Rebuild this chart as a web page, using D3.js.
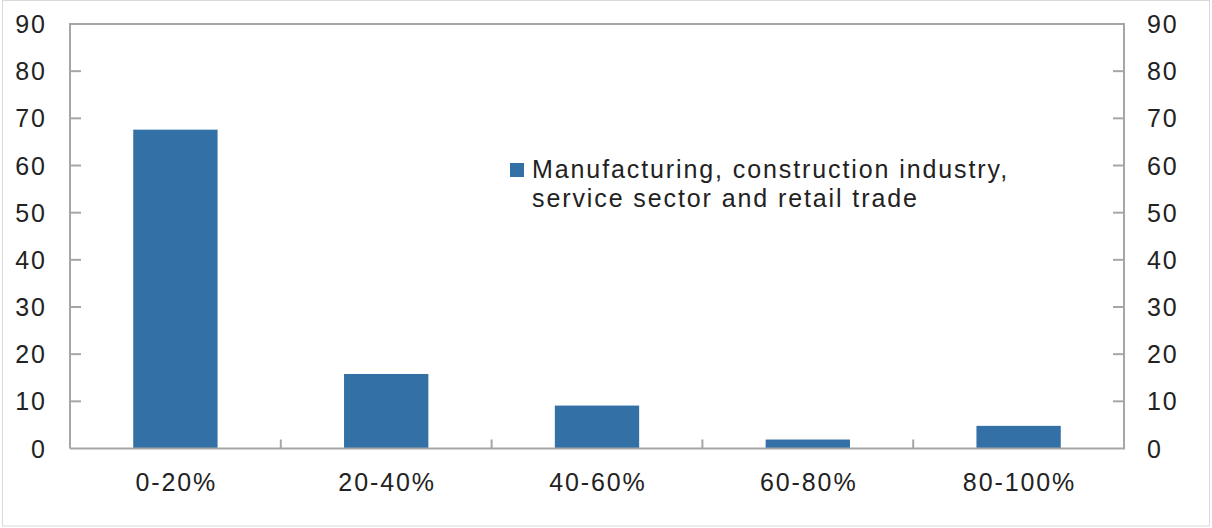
<!DOCTYPE html>
<html><head><meta charset="utf-8">
<script src="https://cdn.jsdelivr.net/npm/d3@7"></script>
<style>body{margin:0;background:#fff}svg{display:block}</style>
</head><body>
<svg id="c" width="1212" height="528"></svg>
<script>
const categories = ["0-20%","20-40%","40-60%","60-80%","80-100%"];
const values = [67.6, 15.8, 9.1, 1.9, 4.8];
const yTicks = [0,10,20,30,40,50,60,70,80,90];
const legendLines = ["Manufacturing, construction industry,","service sector and retail trade"];

const svg = d3.select("#c");
const m={l:70,r:1124,t:24,b:448.5};
const font="'Liberation Sans', Arial, sans-serif";
const axisCol="#a6a6a6", textCol="#222", barCol="#3370a6";
const fs=25, ls=1.9;

svg.append("rect").attr("x",2.5).attr("y",0.5).attr("width",1207).attr("height",525.5)
  .attr("fill","#fff").attr("stroke","#d9d9d9");

const x=d3.scaleBand().domain(categories).range([m.l,m.r]).paddingInner(0.6).paddingOuter(0.3);
const xb=d3.scaleBand().domain(categories).range([m.l,m.r]);
const y=d3.scaleLinear().domain([0,90]).range([m.b,m.t]);

svg.selectAll(".bar").data(values).enter().append("rect")
  .attr("x",(d,i)=>x(categories[i])).attr("width",x.bandwidth())
  .attr("y",d=>y(d)).attr("height",d=>y(0)-y(d)).attr("fill",barCol);

const g=svg.append("g").attr("stroke",axisCol).attr("stroke-width",2).attr("fill","none");
g.append("path").attr("d",`M${m.l},${m.b}V${m.t}H${m.r}V${m.b}H${m.l}`);
yTicks.forEach(t=>{
  if(t===0||t===90) return;
  g.append("line").attr("x1",m.l).attr("x2",m.l+11).attr("y1",y(t)).attr("y2",y(t));
  g.append("line").attr("x1",m.r-11).attr("x2",m.r).attr("y1",y(t)).attr("y2",y(t));
});
categories.slice(1).forEach(c=>{
  g.append("line").attr("x1",xb(c)).attr("x2",xb(c)).attr("y1",m.b).attr("y2",m.b-9);
});

function txt(){return svg.append("text").attr("font-family",font).attr("font-size",fs)
  .attr("letter-spacing",ls).attr("fill",textCol);}
yTicks.forEach(t=>{
  txt().attr("x",45+ls).attr("y",y(t)).attr("dy","0.36em").attr("text-anchor","end").text(t);
  txt().attr("x",1147).attr("y",y(t)).attr("dy","0.36em").attr("text-anchor","start").text(t);
});
categories.forEach(c=>{
  txt().attr("x",xb(c)+xb.bandwidth()/2+ls/2).attr("y",491).attr("text-anchor","middle").text(c);
});

svg.append("rect").attr("x",510).attr("y",163).attr("width",14).attr("height",14).attr("fill",barCol);
legendLines.forEach((l,i)=>{
  txt().attr("x",532).attr("y",178+i*29).text(l);
});
</script>
</body></html>
